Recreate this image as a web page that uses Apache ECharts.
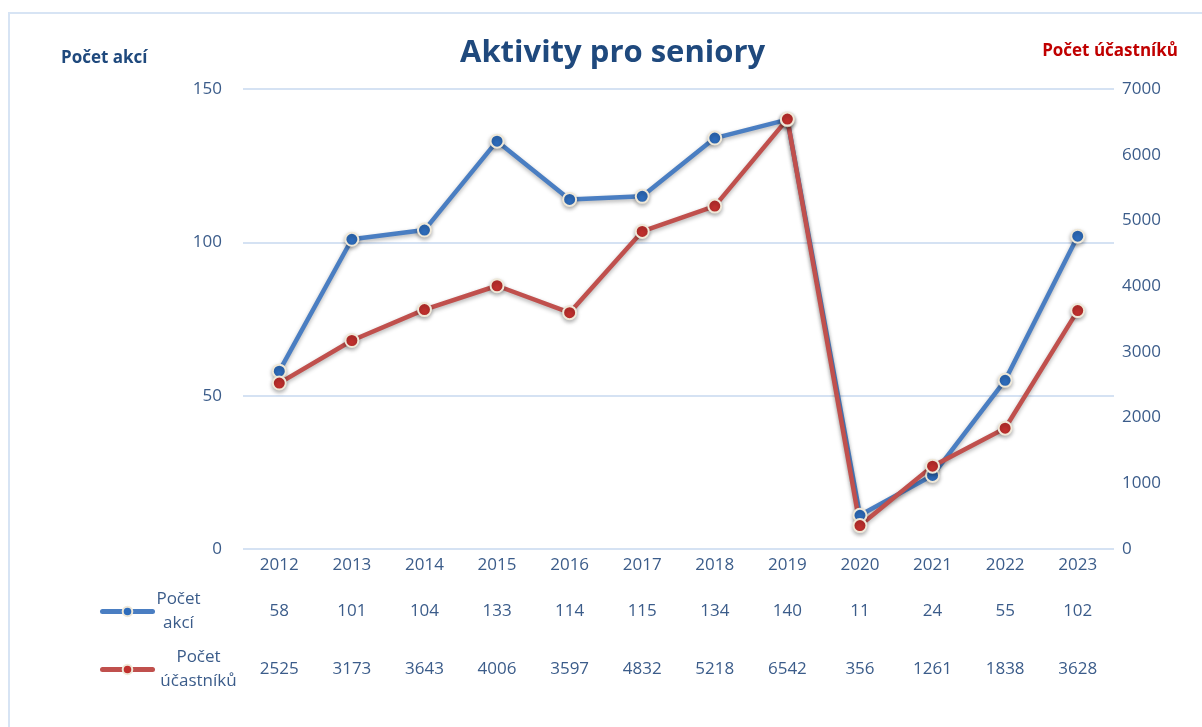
<!DOCTYPE html>
<html>
<head>
<meta charset="utf-8">
<title>Aktivity pro seniory</title>
<script src="https://cdn.jsdelivr.net/npm/echarts@6/dist/echarts.min.js"></script>
<style>
    html, body { margin: 0; padding: 0; background: #fff; }
    #chart { width: 1202px; height: 727px; }
</style>
</head>
<body>
<div id="chart"></div>
<script>
    // roky a hodnoty z tabulky pod grafem
    var years = ['2012', '2013', '2014', '2015', '2016', '2017', '2018', '2019', '2020', '2021', '2022', '2023'];
    var pocetAkci = [58, 101, 104, 133, 114, 115, 134, 140, 11, 24, 55, 102];
    var pocetUcastniku = [2525, 3173, 3643, 4006, 3597, 4832, 5218, 6542, 356, 1261, 1838, 3628];

    var font = '"Open Sans", "Noto Sans", sans-serif';
    var textColor = '#3b5c8a';
    var gridColor = '#d5e2f3';
    var blue = '#4a7ec2';
    var red = '#c0504d';

    function tableAxis(values, offset) {
        return {
            type: 'category',
            data: years,
            position: 'bottom',
            offset: offset,
            axisLine: {show: false},
            axisTick: {show: false},
            axisLabel: {
                interval: 0,
                margin: 8,
                color: textColor,
                fontFamily: font,
                fontSize: 17,
                formatter: function (v, i) { return String(values[i]); }
            }
        };
    }

    function lineSeries(name, data, color, dotColor, yIndex) {
        return {
            name: name,
            type: 'line',
            yAxisIndex: yIndex,
            data: data,
            symbol: 'circle',
            symbolSize: 13,
            lineStyle: {
                color: color, width: 4.5,
                shadowColor: 'rgba(0,0,0,0.3)', shadowBlur: 4, shadowOffsetY: 2
            },
            itemStyle: {
                color: dotColor, borderColor: '#efe8d8', borderWidth: 2,
                shadowColor: 'rgba(0,0,0,0.3)', shadowBlur: 4, shadowOffsetY: 2
            },
            emphasis: {disabled: true}
        };
    }

    function legendFor(name, top, label, width) {
        return {
            data: [name], left: 100, top: top, orient: 'vertical', padding: 0,
            itemWidth: 50, itemHeight: 12, itemGap: 2,
            lineStyle: {width: 5, cap: 'round'},
            formatter: label,
            textStyle: {rich: {a: {width: width, align: 'center', lineHeight: 24, fontSize: 17, color: textColor, fontFamily: font}}}
        };
    }

    var chart = echarts.init(document.getElementById('chart'));
    chart.setOption({
        animation: false,
        title: [
            {
                text: 'Aktivity pro seniory', left: 455, top: 33,
                textStyle: {color: '#1f497d', fontFamily: font, fontWeight: 'bold', fontSize: 31}
            },
            {
                text: 'Počet akcí', left: 56, top: 45,
                textStyle: {color: '#1f497d', fontFamily: font, fontWeight: 'bold', fontSize: 17}
            },
            {
                text: 'Počet účastníků', right: 19, top: 38,
                textStyle: {color: '#c00000', fontFamily: font, fontWeight: 'bold', fontSize: 17}
            }
        ],
        graphic: [{
            type: 'rect',
            shape: {x: 9, y: 13, width: 1300, height: 800},
            style: {fill: 'none', stroke: '#d7e4f4', lineWidth: 2},
            silent: true
        }],
        legend: [
            legendFor('Počet akcí', 591, '{a|Počet}\n{a|akcí}', 42),
            legendFor('Počet účastníků', 649, '{a|Počet}\n{a|účastníků}', 82)
        ],
        grid: {left: 243, right: 88, top: 89, bottom: 178},
        xAxis: [
            {
                type: 'category',
                data: years,
                axisLine: {show: false},
                axisTick: {show: false},
                axisLabel: {interval: 0, margin: 8, color: textColor, fontFamily: font, fontSize: 17}
            },
            tableAxis(pocetAkci, 46),
            tableAxis(pocetUcastniku, 104)
        ],
        yAxis: [
            {
                type: 'value', min: 0, max: 150, interval: 50,
                axisLine: {show: false}, axisTick: {show: false},
                splitLine: {lineStyle: {color: gridColor, width: 2}},
                axisLabel: {margin: 21, color: textColor, fontFamily: font, fontSize: 17}
            },
            {
                type: 'value', min: 0, max: 7000, interval: 1000,
                axisLine: {show: false}, axisTick: {show: false},
                splitLine: {show: false},
                axisLabel: {
                    margin: 8, color: textColor, fontFamily: font, fontSize: 17,
                    formatter: function (v) { return String(v); }
                }
            }
        ],
        series: [
            lineSeries('Počet akcí', pocetAkci, blue, '#2e6cbb', 0),
            lineSeries('Počet účastníků', pocetUcastniku, red, '#c0302d', 1)
        ]
    });
</script>
</body>
</html>
